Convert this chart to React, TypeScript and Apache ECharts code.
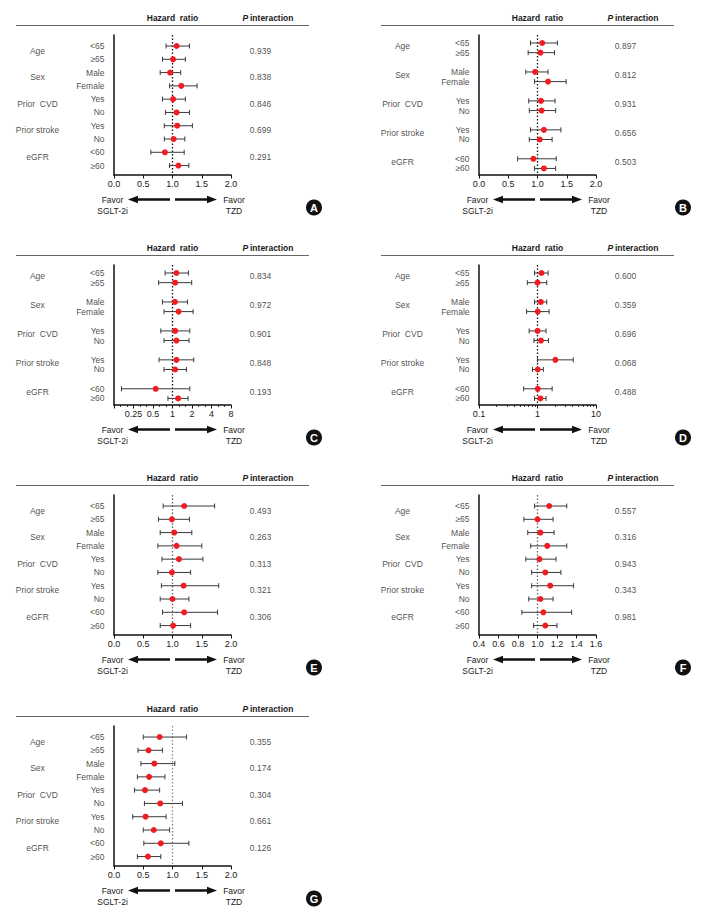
import React, { useEffect, useRef } from "react";
import * as echarts from "echarts";

const FONT = '"Liberation Sans", Arial, Helvetica, sans-serif';

// ---------- data ----------
const groups = ["Age", "Sex", "Prior  CVD", "Prior stroke", "eGFR"];
const subgroups = ["<65", "≥65", "Male", "Female", "Yes", "No", "Yes", "No", "<60", "≥60"];

const hrA = [1.07, 1.01, 0.96, 1.15, 1.01, 1.07, 1.08, 1.02, 0.87, 1.1];
const loA = [0.89, 0.83, 0.79, 0.95, 0.83, 0.88, 0.86, 0.86, 0.63, 0.95];
const hiA = [1.29, 1.22, 1.14, 1.42, 1.22, 1.29, 1.34, 1.21, 1.2, 1.28];
const pA = ["0.939", "0.838", "0.846", "0.699", "0.291"];

const hrB = [1.08, 1.05, 0.96, 1.18, 1.06, 1.07, 1.11, 1.04, 0.93, 1.11];
const loB = [0.88, 0.84, 0.8, 0.95, 0.85, 0.86, 0.88, 0.86, 0.66, 0.95];
const hiB = [1.34, 1.29, 1.18, 1.49, 1.3, 1.31, 1.4, 1.25, 1.32, 1.31];
const pB = ["0.897", "0.812", "0.931", "0.656", "0.503"];

const hrC = [1.15, 1.1, 1.09, 1.24, 1.1, 1.15, 1.15, 1.1, 0.55, 1.22];
const loC = [0.77, 0.61, 0.7, 0.74, 0.66, 0.74, 0.62, 0.74, 0.163, 0.85];
const hiC = [1.76, 1.98, 1.7, 2.08, 1.85, 1.8, 2.13, 1.64, 1.85, 1.74];
const pC = ["0.834", "0.972", "0.901", "0.848", "0.193"];

const hrD = [1.17, 1.0, 1.14, 1.01, 1.0, 1.15, 2.02, 1.01, 1.01, 1.12];
const loD = [0.89, 0.67, 0.89, 0.65, 0.72, 0.87, 1.0, 0.82, 0.58, 0.89];
const hiD = [1.52, 1.44, 1.44, 1.58, 1.4, 1.54, 4.09, 1.26, 1.78, 1.4];
const pD = ["0.600", "0.359", "0.696", "0.068", "0.488"];

const hrE = [1.2, 0.99, 1.03, 1.07, 1.11, 0.99, 1.19, 1.0, 1.2, 1.01];
const loE = [0.84, 0.76, 0.79, 0.75, 0.82, 0.75, 0.81, 0.79, 0.83, 0.79];
const hiE = [1.72, 1.29, 1.33, 1.5, 1.52, 1.31, 1.79, 1.28, 1.77, 1.31];
const pE = ["0.493", "0.263", "0.313", "0.321", "0.306"];

const hrF = [1.12, 1.0, 1.03, 1.1, 1.02, 1.08, 1.13, 1.03, 1.06, 1.08];
const loF = [0.97, 0.86, 0.9, 0.93, 0.88, 0.94, 0.94, 0.91, 0.84, 0.96];
const hiF = [1.3, 1.16, 1.17, 1.3, 1.19, 1.24, 1.37, 1.16, 1.35, 1.2];
const pF = ["0.557", "0.316", "0.943", "0.343", "0.981"];

const hrG = [0.78, 0.59, 0.69, 0.6, 0.53, 0.79, 0.54, 0.68, 0.8, 0.58];
const loG = [0.5, 0.41, 0.46, 0.4, 0.35, 0.52, 0.32, 0.5, 0.51, 0.4];
const hiG = [1.24, 0.83, 1.04, 0.87, 0.78, 1.17, 0.89, 0.95, 1.28, 0.8];
const pG = ["0.355", "0.174", "0.304", "0.661", "0.126"];

// tick labels
const log2Labels = [0.25, 0.5, 1, 2, 4, 8];
const log2Majors = [0.125, 0.25, 0.5, 1, 2, 4, 8];
const log10Majors = [0.1, 1, 10];

const favorLeft = ["Favor", "SGLT-2i"];
const favorRight = ["Favor", "TZD"];
const headerHR = "Hazard  ratio";

// ---------- axis definitions ----------
const log2Minors: number[] = [];
for (let k = 0; k < log2Majors.length - 1; k++) {
  log2Minors.push(log2Majors[k] * Math.pow(2, 1 / 3), log2Majors[k] * Math.pow(2, 2 / 3));
}
const log10Minors: number[] = [];
for (let k = 0; k < log10Majors.length - 1; k++) {
  for (let m = 2; m <= 9; m++) log10Minors.push(+(log10Majors[k] * m).toFixed(3));
}

const axisDefs: any = {
  lin2: { type: "value", min: 0, max: 2, interval: 0.5, fmt: (v: number) => v.toFixed(1) },
  lin16: { type: "value", min: 0.4, max: 1.6, interval: 0.2, fmt: (v: number) => v.toFixed(1) },
  log2: {
    type: "log", logBase: 2, min: 0.125, max: 8, fmt: (v: number) => String(v),
    labels: log2Labels, ticks: log2Majors, minor: log2Minors,
  },
  log10: {
    type: "log", logBase: 10, min: 0.1, max: 10, fmt: (v: number) => String(v),
    labels: log10Majors, ticks: log10Majors, minor: log10Minors,
  },
};

const panels = [
  { id: "A", col: 0, row: 0, hr: hrA, lo: loA, hi: hiA, p: pA, axis: "lin2", paired: false, ref: "#111" },
  { id: "B", col: 1, row: 0, hr: hrB, lo: loB, hi: hiB, p: pB, axis: "lin2", paired: true, ref: "#111" },
  { id: "C", col: 0, row: 1, hr: hrC, lo: loC, hi: hiC, p: pC, axis: "log2", paired: true, ref: "#111" },
  { id: "D", col: 1, row: 1, hr: hrD, lo: loD, hi: hiD, p: pD, axis: "log10", paired: true, ref: "#111" },
  { id: "E", col: 0, row: 2, hr: hrE, lo: loE, hi: hiE, p: pE, axis: "lin2", paired: false, ref: "#666" },
  { id: "F", col: 1, row: 2, hr: hrF, lo: loF, hi: hiF, p: pF, axis: "lin16", paired: false, ref: "#666" },
  { id: "G", col: 0, row: 3, hr: hrG, lo: loG, hi: hiG, p: pG, axis: "lin2", paired: false, ref: "#888" },
];

const rowTops = [0, 230, 460, 691];

function txt(x: number, y: number, text: string, opts: any = {}) {
  return {
    type: "text",
    x,
    y,
    silent: true,
    style: {
      text,
      fill: opts.fill || "#1a1a1a",
      font: `${opts.fontStyle || "normal"} ${opts.fontWeight || "normal"} ${opts.fontSize || 8.5}px ${FONT}`,
      textAlign: opts.align || "center",
      align: opts.align || "center",
      textVerticalAlign: "middle",
      verticalAlign: "middle",
    },
  };
}

function buildOption() {
  const grid: any[] = [];
  const xAxis: any[] = [];
  const yAxis: any[] = [];
  const series: any[] = [];
  const graphic: any[] = [];

  panels.forEach((pn, i) => {
    const gl = pn.col === 0 ? 114 : 479;
    const gw = 117;
    const pt = rowTops[pn.row];
    const ax = axisDefs[pn.axis];
    const step = pn.paired ? 3 : 2;
    const yMin = -0.83;
    const yMax = pn.paired ? 13.68 : 9.71;

    grid.push({ left: gl, top: pt + 35, width: gw, height: 140 });

    const xi = xAxis.length;
    xAxis.push({
      gridIndex: i,
      type: ax.type,
      logBase: ax.logBase,
      min: ax.min,
      max: ax.max,
      interval: ax.interval,
      position: "bottom",
      axisLine: { show: true, onZero: false, lineStyle: { color: "#111", width: 1.5 } },
      axisTick: { show: true, length: 3.5, lineStyle: { color: "#111", width: 1 }, customValues: ax.ticks },
      axisLabel: {
        margin: 4, fontSize: 9, color: "#1a1a1a", fontFamily: FONT,
        formatter: ax.fmt, customValues: ax.labels, showMinLabel: true, showMaxLabel: true,
      },
      splitLine: { show: false },
    });
    if (ax.minor) {
      xAxis.push({
        gridIndex: i,
        type: ax.type,
        logBase: ax.logBase,
        min: ax.min,
        max: ax.max,
        position: "bottom",
        axisLine: { show: false, onZero: false },
        axisTick: { show: true, length: 2, lineStyle: { color: "#111", width: 0.8 }, customValues: ax.minor },
        axisLabel: { show: false },
        splitLine: { show: false },
      });
    }
    yAxis.push({
      gridIndex: i,
      type: "value",
      inverse: true,
      min: yMin,
      max: yMax,
      axisLine: { show: true, onZero: false, lineStyle: { color: "#111", width: 1.5 } },
      axisTick: { show: false },
      axisLabel: { show: false },
      splitLine: { show: false },
    });

    const rowPos = pn.hr.map((_, k) => Math.floor(k / 2) * step + (k % 2));
    const groupPos = groups.map((_, j) => j * step + 0.35);

    // error bars
    series.push({
      type: "custom",
      xAxisIndex: xi,
      yAxisIndex: i,
      silent: true,
      clip: false,
      encode: { x: [0, 1], y: 2 },
      data: pn.lo.map((lo, k) => [lo, pn.hi[k], rowPos[k]]),
      renderItem: (params: any, api: any) => {
        const y = api.value(2);
        const p1 = api.coord([api.value(0), y]);
        const p2 = api.coord([api.value(1), y]);
        const h = 2.5;
        const st = { stroke: "#3a3a3a", lineWidth: 1 };
        return {
          type: "group",
          children: [
            { type: "line", shape: { x1: p1[0], y1: p1[1], x2: p2[0], y2: p2[1] }, style: st },
            { type: "line", shape: { x1: p1[0], y1: p1[1] - h, x2: p1[0], y2: p1[1] + h }, style: st },
            { type: "line", shape: { x1: p2[0], y1: p2[1] - h, x2: p2[0], y2: p2[1] + h }, style: st },
          ],
        };
      },
    });

    // points + reference line
    series.push({
      type: "scatter",
      xAxisIndex: xi,
      yAxisIndex: i,
      silent: true,
      symbol: "circle",
      symbolSize: 6,
      itemStyle: { color: "#f01c20", opacity: 1 },
      z: 5,
      data: pn.hr.map((v, k) => [v, rowPos[k]]),
      markLine: {
        silent: true,
        symbol: ["none", "none"],
        label: { show: false },
        lineStyle: { color: pn.ref, width: 1.3, type: [1.5, 2] },
        data: [{ xAxis: 1 }],
        z: 1,
      },
    });

    const labelSeries = (data: any[], position: string, distance: number, align: string) => ({
      type: "scatter",
      xAxisIndex: xi,
      yAxisIndex: i,
      silent: true,
      clip: false,
      symbolSize: 1,
      itemStyle: { color: "rgba(0,0,0,0)" },
      emphasis: { disabled: true },
      data,
      label: {
        show: true,
        position,
        distance,
        align,
        verticalAlign: "middle",
        color: "#1a1a1a",
        fontSize: 8.5,
        fontFamily: FONT,
        formatter: (p: any) => p.name,
      },
    });

    series.push(
      labelSeries(
        subgroups.map((s, k) => ({ name: s, value: [ax.min, rowPos[k]] })),
        "left", 9, "right"
      )
    );
    series.push(
      labelSeries(
        groups.map((g, j) => ({ name: g, value: [ax.min, groupPos[j]] })),
        "left", 76, "center"
      )
    );
    series.push(
      labelSeries(
        pn.p.map((p, j) => ({ name: p, value: [ax.max, groupPos[j]] })),
        "right", 29, "center"
      )
    );

    // decorations
    graphic.push({
      type: "line",
      silent: true,
      shape: { x1: gl - 98, y1: pt + 25.5, x2: gl + 195, y2: pt + 25.5 },
      style: { stroke: "#666", lineWidth: 1 },
    });
    graphic.push(txt(gl + 58.5, pt + 18, headerHR, { fontWeight: "bold" }));
    graphic.push(txt(gl + 128.5, pt + 18, "P", { fontWeight: "bold", fontStyle: "italic", align: "left" }));
    graphic.push(txt(gl + 136, pt + 18, "interaction", { fontWeight: "bold", align: "left" }));

    const ay = pt + 199.5;
    const arrowStyle = { stroke: "#111", lineWidth: 2.6 };
    graphic.push({ type: "line", silent: true, shape: { x1: gl + 56, y1: ay, x2: gl + 22, y2: ay }, style: arrowStyle });
    graphic.push({
      type: "polygon", silent: true,
      shape: { points: [[gl + 14, ay], [gl + 24, ay - 3.8], [gl + 24, ay + 3.8]] },
      style: { fill: "#111" },
    });
    graphic.push({ type: "line", silent: true, shape: { x1: gl + 61, y1: ay, x2: gl + 95, y2: ay }, style: arrowStyle });
    graphic.push({
      type: "polygon", silent: true,
      shape: { points: [[gl + 103, ay], [gl + 93, ay - 3.8], [gl + 93, ay + 3.8]] },
      style: { fill: "#111" },
    });
    graphic.push(txt(gl - 1.5, ay, favorLeft[0]));
    graphic.push(txt(gl - 1.5, ay + 11.5, favorLeft[1]));
    graphic.push(txt(gl + 120, ay, favorRight[0]));
    graphic.push(txt(gl + 120, ay + 11.5, favorRight[1]));

    const bx = pn.col === 0 ? 314 : 683;
    const by = pt + 207.5;
    graphic.push({ type: "circle", silent: true, shape: { cx: bx, cy: by, r: 8 }, style: { fill: "#111" } });
    graphic.push(txt(bx, by + 0.5, pn.id, { fontWeight: "bold", fontSize: 11, fill: "#fff" }));
  });

  return {
    animation: false,
    backgroundColor: "#fff",
    grid,
    xAxis,
    yAxis,
    series,
    graphic: { elements: graphic },
  };
}

export default function App() {
  const ref = useRef<HTMLDivElement>(null);
  useEffect(() => {
    const chart = echarts.init(ref.current as HTMLDivElement, null, { renderer: "svg" });
    chart.setOption(buildOption() as any);
    return () => chart.dispose();
  }, []);
  return (
    <div
      ref={ref}
      style={{ position: "absolute", left: 0, top: 0, width: 704, height: 920, background: "#fff" }}
    />
  );
}
